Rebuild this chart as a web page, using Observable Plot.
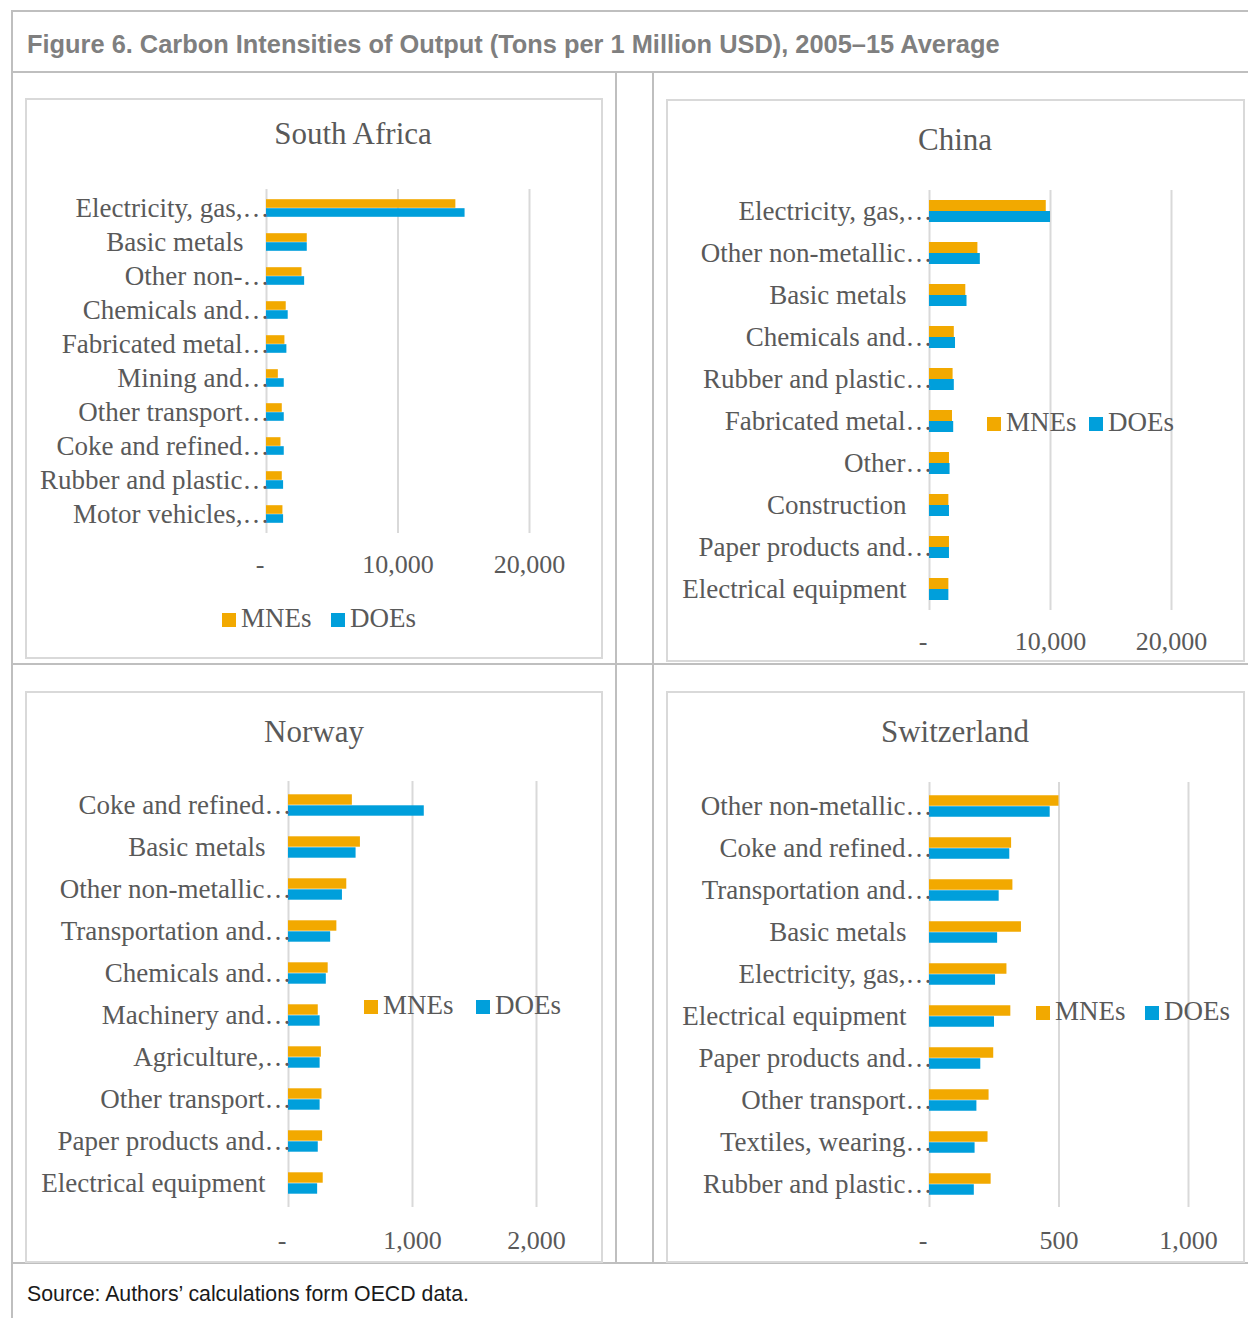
<!DOCTYPE html>
<html>
<head>
<meta charset="utf-8">
<script src="https://cdn.jsdelivr.net/npm/d3@7"></script>
<script src="https://cdn.jsdelivr.net/npm/@observablehq/plot@0.6"></script>
<style>
  html, body { margin: 0; padding: 0; background: #fff; }
  #fig { position: relative; width: 1248px; height: 1318px; overflow: hidden; background: #fff; }
  .rule { position: absolute; background: #bfbfbf; }
  .box { position: absolute; box-sizing: border-box; border: 2px solid #d9d9d9; background: #fff; }
  .box svg { position: absolute; left: 0; top: 0; }
  .ptitle { position: absolute; width: 400px; text-align: center; font: 31px/31px "Liberation Serif", "Times New Roman", serif; color: #595959; white-space: nowrap; }
  .sw { position: absolute; width: 14px; height: 14px; }
  .lt { position: absolute; font: 27px/27px "Liberation Serif", "Times New Roman", serif; color: #595959; white-space: nowrap; }
  #head { position: absolute; left: 27px; top: 29px; font: bold 25.4px/30px "Liberation Sans", Arial, sans-serif; color: #7f7f7f; white-space: nowrap; }
  #source { position: absolute; left: 27px; top: 1281px; font: 21.3px/26px "Liberation Sans", Arial, sans-serif; color: #1a1a1a; white-space: nowrap; }
</style>
</head>
<body>
<div id="fig">
  <div class="rule" style="left:11px;top:10px;width:1237px;height:2px"></div>
  <div class="rule" style="left:11px;top:10px;width:2px;height:1308px"></div>
  <div class="rule" style="left:11px;top:71px;width:1237px;height:2px"></div>
  <div class="rule" style="left:615px;top:71px;width:2px;height:1193px"></div>
  <div class="rule" style="left:652px;top:71px;width:2px;height:1193px"></div>
  <div class="rule" style="left:11px;top:663px;width:1237px;height:2px"></div>
  <div class="rule" style="left:11px;top:1262px;width:1237px;height:2px"></div>
  <div id="head">Figure 6. Carbon Intensities of Output (Tons per 1 Million USD), 2005–15 Average</div>
  <div id="source">Source: Authors’ calculations form OECD data.</div>
</div>
<script>
// Series colours
const MNE_COLOR = "#F2A900";
const DOE_COLOR = "#009FDB";
const seriesNames = ["MNEs", "DOEs"];

// South Africa
const saCategories = ["Electricity, gas,…", "Basic metals", "Other non-…", "Chemicals and…", "Fabricated metal…", "Mining and…", "Other transport…", "Coke and refined…", "Rubber and plastic…", "Motor vehicles,…"];
const saMNEs = [14400, 3100, 2700, 1500, 1400, 900, 1200, 1100, 1200, 1250];
const saDOEs = [15100, 3100, 2900, 1650, 1550, 1350, 1350, 1350, 1300, 1300];
const saTicks = [0, 10000, 20000];

// China
const cnCategories = ["Electricity, gas,…", "Other non-metallic…", "Basic metals", "Chemicals and…", "Rubber and plastic…", "Fabricated metal…", "Other…", "Construction", "Paper products and…", "Electrical equipment"];
const cnMNEs = [9650, 4000, 3000, 2050, 1950, 1900, 1650, 1600, 1650, 1600];
const cnDOEs = [10000, 4200, 3100, 2150, 2050, 2000, 1700, 1650, 1650, 1600];
const cnTicks = [0, 10000, 20000];

// Norway
const noCategories = ["Coke and refined…", "Basic metals", "Other non-metallic…", "Transportation and…", "Chemicals and…", "Machinery and…", "Agriculture,…", "Other transport…", "Paper products and…", "Electrical equipment"];
const noMNEs = [515, 580, 470, 390, 320, 240, 265, 270, 275, 280];
const noDOEs = [1095, 545, 435, 340, 305, 255, 255, 255, 240, 235];
const noTicks = [0, 1000, 2000];

// Switzerland
const chCategories = ["Other non-metallic…", "Coke and refined…", "Transportation and…", "Basic metals", "Electricity, gas,…", "Electrical equipment", "Paper products and…", "Other transport…", "Textiles, wearing…", "Rubber and plastic…"];
const chMNEs = [500, 317, 322, 355, 299, 314, 248, 230, 226, 238];
const chDOEs = [466, 310, 269, 263, 255, 251, 198, 183, 176, 173];
const chTicks = [0, 500, 1000];

const SERIF = '"Liberation Serif", "Times New Roman", serif';
const fmt = d => d === 0 ? "-\u2002" : d3.format(",")(d);
const fig = document.getElementById("fig");

function panel(cfg) {
  const rows = cfg.categories.map((c, i) => ({c, mne: cfg.mne[i], doe: cfg.doe[i]}));
  const innerW = cfg.w - 4, innerH = cfg.h - 4;
  const plotH = innerH - cfg.mt - cfg.mb;
  const step = plotH / rows.length;
  const gap = (step - 2 * cfg.bar) / 2;
  const truncated = rows.filter(r => r.c.endsWith("…"));
  const whole = rows.filter(r => !r.c.endsWith("…"));

  const chart = Plot.plot({
    width: innerW,
    height: innerH,
    marginLeft: cfg.ml,
    marginRight: innerW - cfg.ml - cfg.plotW,
    marginTop: cfg.mt,
    marginBottom: cfg.mb,
    style: {fontFamily: SERIF, fontSize: "26px", color: "#595959", background: "transparent", overflow: "visible"},
    x: {domain: [0, cfg.ticks[cfg.ticks.length - 1]], label: null},
    y: {domain: cfg.categories, padding: 0, axis: null},
    marks: [
      Plot.gridX({ticks: cfg.ticks, stroke: "#d9d9d9", strokeOpacity: 1, strokeWidth: 2}),
      Plot.barX(rows, {y: "c", x: "mne", fill: MNE_COLOR, insetTop: gap, insetBottom: step / 2}),
      Plot.barX(rows, {y: "c", x: "doe", fill: DOE_COLOR, insetTop: step / 2, insetBottom: gap}),
      Plot.axisX({ticks: cfg.ticks, tickSize: 0, tickPadding: cfg.tp, tickFormat: fmt, label: null, fontSize: 26}),
      Plot.text(truncated, {y: "c", text: "c", frameAnchor: "left", textAnchor: "end", dx: 3, fontSize: 27, fill: "#595959"}),
      Plot.text(whole, {y: "c", text: "c", frameAnchor: "left", textAnchor: "end", dx: -23, fontSize: 27, fill: "#595959"})
    ]
  });

  const box = document.createElement("div");
  box.className = "box";
  Object.assign(box.style, {left: cfg.x + "px", top: cfg.y + "px", width: cfg.w + "px", height: cfg.h + "px"});
  box.appendChild(chart);
  fig.appendChild(box);

  const t = document.createElement("div");
  t.className = "ptitle";
  t.textContent = cfg.title;
  t.style.left = (cfg.tx - 200) + "px";
  t.style.top = (cfg.ty - 16) + "px";
  fig.appendChild(t);

  // legend: swatch + label for each series
  cfg.legend.forEach((lx, i) => {
    const sw = document.createElement("div");
    sw.className = "sw";
    sw.style.background = i === 0 ? MNE_COLOR : DOE_COLOR;
    sw.style.left = lx + "px";
    sw.style.top = (cfg.ly - 7) + "px";
    fig.appendChild(sw);
    const lt = document.createElement("div");
    lt.className = "lt";
    lt.textContent = seriesNames[i];
    lt.style.left = (lx + 19) + "px";
    lt.style.top = (cfg.ly - 15) + "px";
    fig.appendChild(lt);
  });
}

panel({title: "South Africa", categories: saCategories, mne: saMNEs, doe: saDOEs, ticks: saTicks,
  x: 25, y: 98, w: 578, h: 561, ml: 239, plotW: 263, mt: 89, mb: 124, bar: 9, tp: 21,
  tx: 353, ty: 134, ly: 620, legend: [222, 331]});

panel({title: "China", categories: cnCategories, mne: cnMNEs, doe: cnDOEs, ticks: cnTicks,
  x: 666, y: 99, w: 579, h: 563, ml: 261, plotW: 242, mt: 89, mb: 50, bar: 11, tp: 21,
  tx: 955, ty: 140, ly: 424, legend: [987, 1089]});

panel({title: "Norway", categories: noCategories, mne: noMNEs, doe: noDOEs, ticks: noTicks,
  x: 25, y: 691, w: 578, h: 572, ml: 261, plotW: 248, mt: 88, mb: 54, bar: 11, tp: 23,
  tx: 314, ty: 732, ly: 1007, legend: [364, 476]});

panel({title: "Switzerland", categories: chCategories, mne: chMNEs, doe: chDOEs, ticks: chTicks,
  x: 666, y: 691, w: 579, h: 572, ml: 261, plotW: 259, mt: 89, mb: 54, bar: 11, tp: 23,
  tx: 955, ty: 732, ly: 1013, legend: [1036, 1145]});
</script>
</body>
</html>
